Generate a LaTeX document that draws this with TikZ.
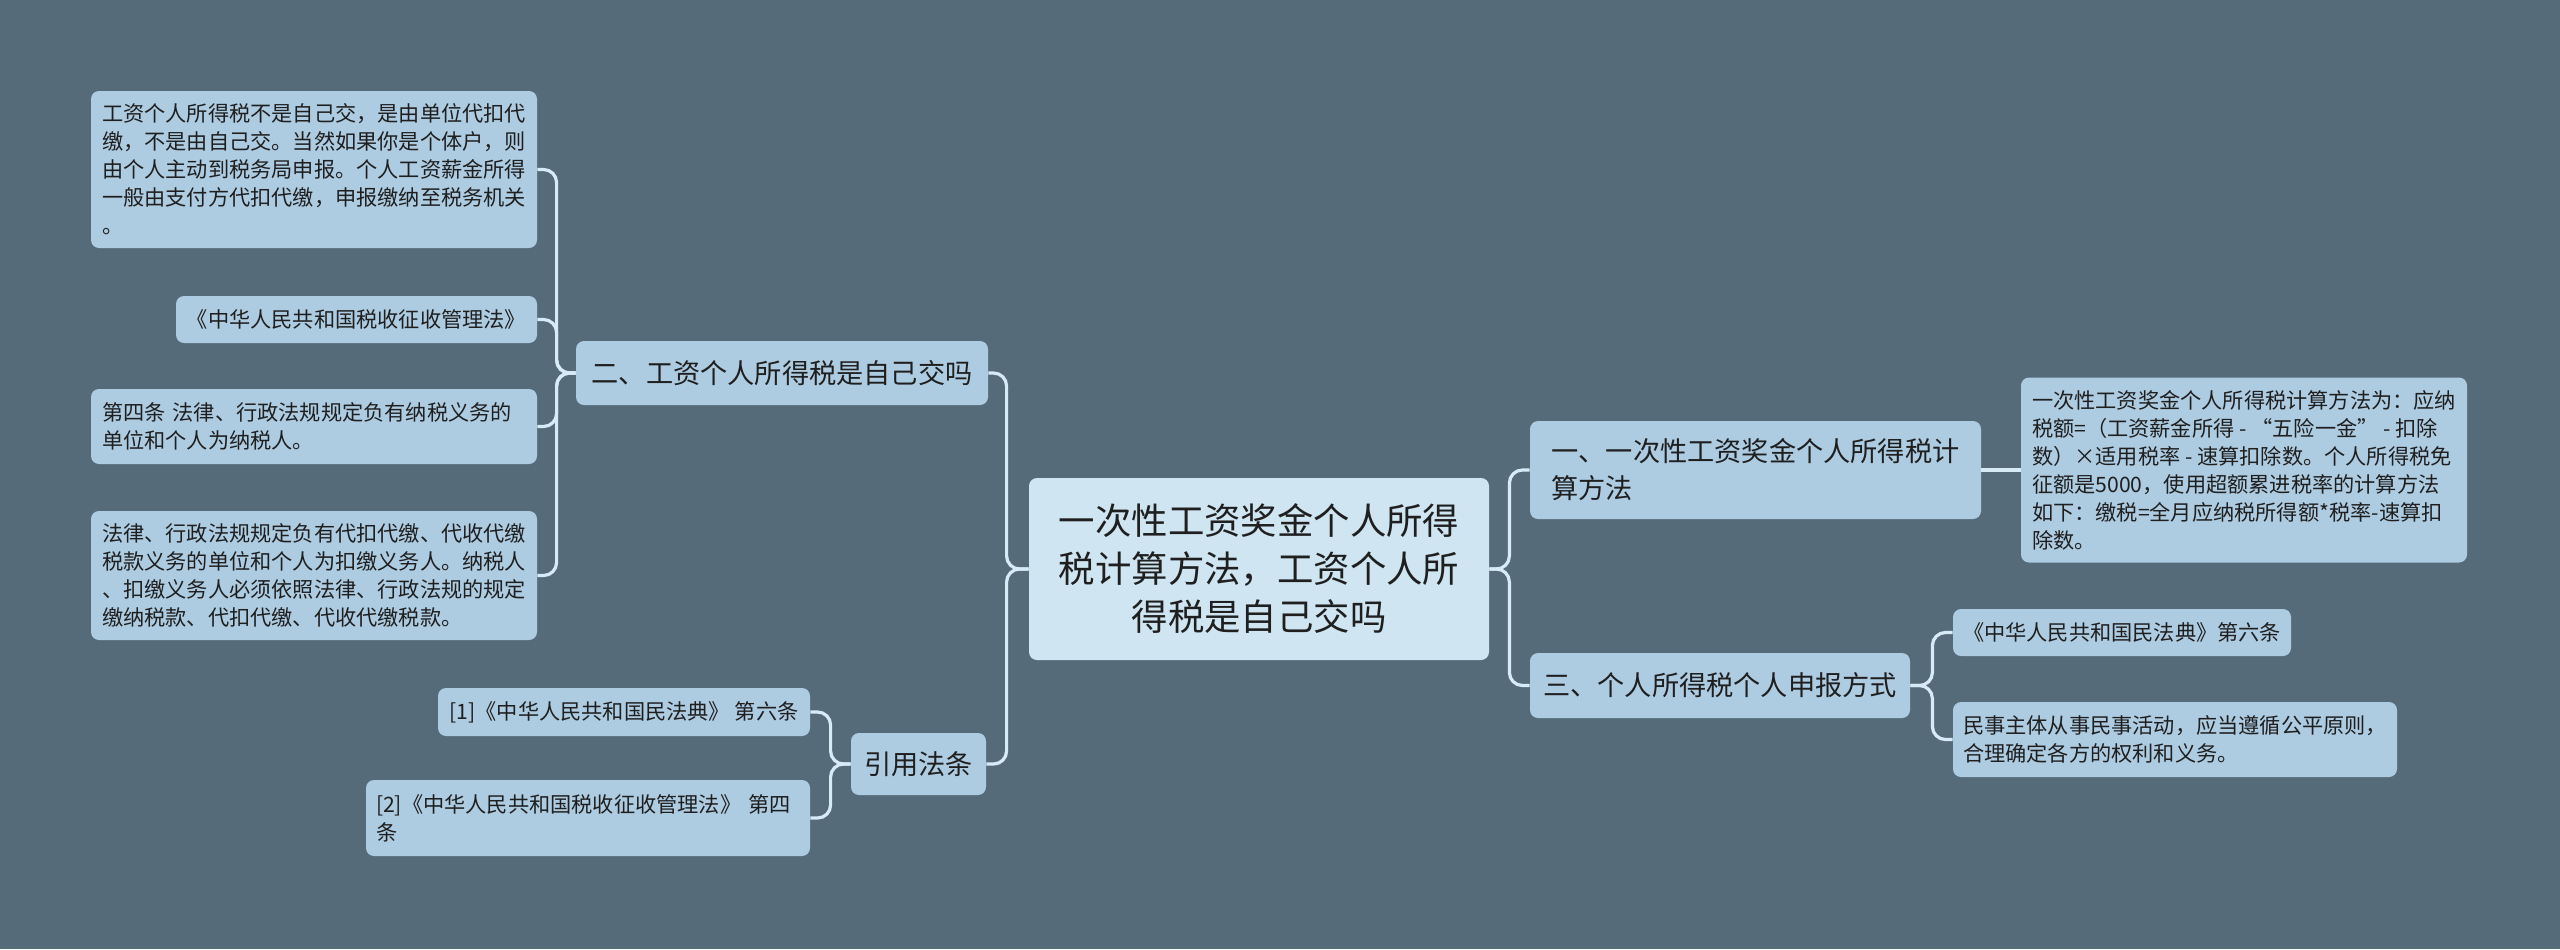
\documentclass[tikz,border=0pt]{standalone}
\usepackage{fontspec}
\setmainfont{Noto Sans CJK SC}
\usepackage{tikz}
\definecolor{bgcol}{HTML}{566B7A}
\definecolor{boxcol}{HTML}{ADCBE1}
\definecolor{topcol}{HTML}{CFE5F2}
\definecolor{linkcol}{HTML}{D6EBF6}
\definecolor{inkcol}{HTML}{1F1F1F}

\begin{document}
\begin{tikzpicture}[
  x=0.5pt, y=-0.5pt,
  box/.style={fill=boxcol, rounded corners=4pt, text=inkcol, inner sep=0pt, align=left},
  topbox/.style={box, fill=topcol, align=center, font=\fontsize{18.2}{24}\selectfont},
  midbox/.style={box, font=\fontsize{13.6}{18.5}\selectfont},
  leafbox/.style={box, font=\fontsize{10.6}{14}\selectfont},
  link/.style={draw=linkcol, line width=1.6pt, rounded corners=6.5pt}
]
  \fill[bgcol] (0,0) rectangle (2560,949);

  \node[topbox, minimum width=230pt, minimum height=91pt] (T) at (1259,569) {一次性工资奖金个人所得\\税计算方法，工资个人所\\得税是自己交吗};

  \node[midbox, minimum width=225.5pt, minimum height=49pt] (S1) at (1755.5,470) {一、一次性工资奖金个人所得税计\\算方法};
  \node[leafbox, minimum width=223pt, minimum height=92.5pt] (S1a) at (2244,470) {一次性工资奖金个人所得税计算方法为：应纳\\税额=（工资薪金所得 - “五险一金” - 扣除\\数）×适用税率 - 速算扣除数。个人所得税免\\征额是5000，使用超额累进税率的计算方法\\如下：缴税=全月应纳税所得额*税率-速算扣\\除数。};

  \node[midbox, minimum width=190pt, minimum height=32.5pt] (S3) at (1720,685.5) {三、个人所得税个人申报方式};
  \node[leafbox, minimum width=169pt, minimum height=23.5pt] (S3a) at (2122,632.5) {《中华人民共和国民法典》第六条};
  \node[leafbox, minimum width=222pt, minimum height=37.5pt] (S3b) at (2175,739.5) {民事主体从事民事活动，应当遵循公平原则，\\合理确定各方的权利和义务。};

  \node[midbox, minimum width=206pt, minimum height=32pt] (S2) at (782,373) {二、工资个人所得税是自己交吗};
  \node[leafbox, minimum width=223pt, minimum height=78.5pt] (S2a) at (314,169.5) {工资个人所得税不是自己交，是由单位代扣代\\缴，不是由自己交。当然如果你是个体户，则\\由个人主动到税务局申报。个人工资薪金所得\\一般由支付方代扣代缴，申报缴纳至税务机关\\。};
  \node[leafbox, minimum width=180.5pt, minimum height=23.5pt] (S2b) at (356.5,319.5) {《中华人民共和国税收征收管理法》};
  \node[leafbox, text width=212pt, minimum width=223pt, minimum height=37.5pt] (S2c) at (314,426.5) {第四条 法律、行政法规规定负有纳税义务的\\单位和个人为纳税人。};
  \node[leafbox, minimum width=223pt, minimum height=64.5pt] (S2d) at (314,575.5) {法律、行政法规规定负有代扣代缴、代收代缴\\税款义务的单位和个人为扣缴义务人。纳税人\\、扣缴义务人必须依照法律、行政法规的规定\\缴纳税款、代扣代缴、代收代缴税款。};

  \node[midbox, minimum width=67.5pt, minimum height=31pt] (S4) at (918.5,764) {引用法条};
  \node[leafbox, minimum width=186pt, minimum height=24pt] (S4a) at (624,712) {[1]《中华人民共和国民法典》 第六条};
  \node[leafbox, text width=212pt, minimum width=222pt, minimum height=38pt] (S4b) at (588,818) {[2]《中华人民共和国税收征收管理法》 第四\\条};

  \draw[link] (T.east) -- ++(20,0) |- (S1.west);
  \draw[link] (T.east) -- ++(20,0) |- (S3.west);
  \draw[link] (S1.east) -- (S1a.west);
  \draw[link] (S3.east) -- ++(22,0) |- (S3a.west);
  \draw[link] (S3.east) -- ++(22,0) |- (S3b.west);
  \draw[link] (T.west) -- ++(-22,0) |- (S2.east);
  \draw[link] (T.west) -- ++(-22,0) |- (S4.east);
  \draw[link] (S2.west) -- ++(-19,0) |- (S2a.east);
  \draw[link] (S2.west) -- ++(-19,0) |- (S2b.east);
  \draw[link] (S2.west) -- ++(-19,0) |- (S2c.east);
  \draw[link] (S2.west) -- ++(-19,0) |- (S2d.east);
  \draw[link] (S4.west) -- ++(-20,0) |- (S4a.east);
  \draw[link] (S4.west) -- ++(-20,0) |- (S4b.east);
\end{tikzpicture}
\end{document}
